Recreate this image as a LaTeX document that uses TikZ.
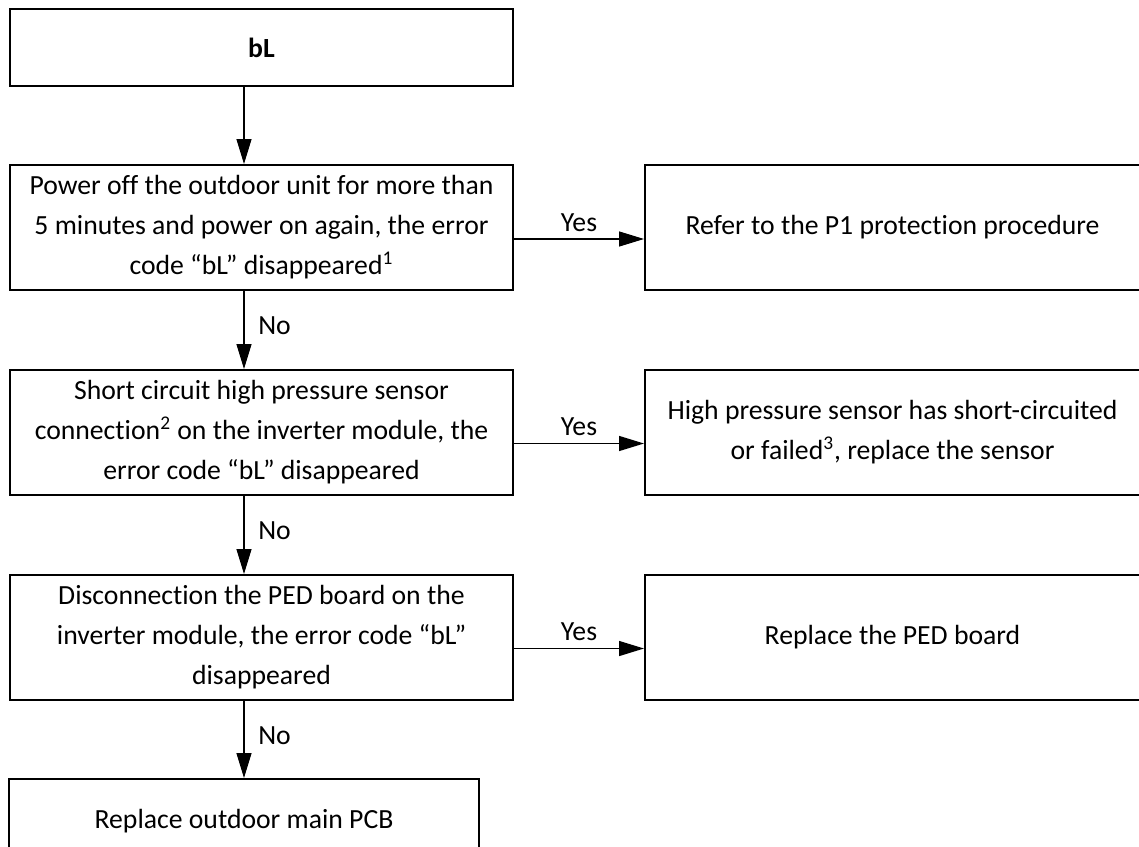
\documentclass[tikz,border=0pt]{standalone}
\usepackage{fontspec}
\setmainfont{Carlito}[Ligatures=NoCommon]
\usetikzlibrary{positioning,arrows.meta}

\begin{document}
\begin{tikzpicture}[node distance=38.5pt and 65pt, font=\fontsize{13.85pt}{20pt}\selectfont]
\tikzstyle{box}=[draw, line width=1pt, align=center, inner sep=2pt,
  minimum width=251.5pt, minimum height=62.5pt]
\tikzstyle{res}=[box, minimum width=247.5pt]
\tikzstyle{arr}=[-{Triangle[length=12.5pt, width=7.5pt]}, line width=0.65pt]
\useasboundingbox (0,0) rectangle (569.5pt,-423pt);
\clip (0,0) rectangle (569.5pt,-423pt);
\node[box, minimum height=38.5pt] (bl) at (130.75pt,-23.75pt) {\textbf{bL}};
\node[box, below=of bl] (q1) {Power off the outdoor unit for more than\\
  5 minutes and power on again, the error\\code “bL” disappeared\textsuperscript{1}};
\node[res, right=of q1] (a1) {Refer to the P1 protection procedure};
\node[box, below=39pt of q1] (q2) {Short circuit high pressure sensor\\
  connection\textsuperscript{2} on the inverter module, the\\error code “bL” disappeared};
\node[res, right=of q2] (a2) {High pressure sensor has short-circuited\\
  or failed\textsuperscript{3}, replace the sensor};
\node[box, below=39pt of q2] (q3) {Disconnection the PED board on the\\
  inverter module, the error code “bL”\\disappeared};
\node[res, right=of q3] (a3) {Replace the PED board};
\node[box, minimum width=235pt, minimum height=42pt, below=of q3, xshift=-8.75pt] (q4)
  {Replace outdoor main PCB};
\draw[arr] (bl.south -| q4) -- (q1.north -| q4);
\draw[arr] (q1.south -| q4) -- node[right, xshift=3.5pt, pos=0.45]{No} (q2.north -| q4);
\draw[arr] (q2.south -| q4) -- node[right, xshift=3.5pt, pos=0.45]{No} (q3.north -| q4);
\draw[arr] (q3.south -| q4) -- node[right, xshift=3.5pt, pos=0.45]{No} (q4.north);
\draw[arr] ([yshift=-5.75pt]q1.east) -- node[above]{Yes} ([yshift=-5.75pt]a1.west);
\draw[arr] ([yshift=-5.5pt]q2.east) -- node[above]{Yes} ([yshift=-5.5pt]a2.west);
\draw[arr] ([yshift=-5.5pt]q3.east) -- node[above]{Yes} ([yshift=-5.5pt]a3.west);
\end{tikzpicture}
\end{document}
